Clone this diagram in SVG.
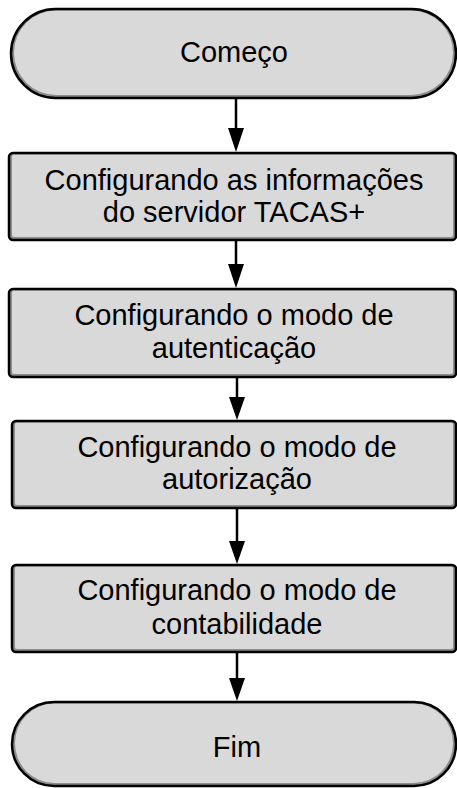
<svg xmlns="http://www.w3.org/2000/svg" width="457" height="788" viewBox="0 0 457 788">
<style>
.sh{fill:#8c8c8c}
.fl{fill:#d9d9d9}
.ol{fill:none;stroke:#000;stroke-width:2.5}
.t{font-family:"Liberation Sans",Arial,sans-serif;font-size:29px;fill:#000;text-anchor:middle}
.c{stroke:#000;stroke-width:2.5;fill:none}
.h{fill:#000}
</style>
<rect width="457" height="788" fill="#fff"/>
<g id="connectors">
<line class="c" x1="236" y1="98" x2="236" y2="128"/>
<path class="h" d="M228,128 L244,128 L236,152 Z"/>
<line class="c" x1="236" y1="240" x2="236" y2="264"/>
<path class="h" d="M228,264 L244,264 L236,288 Z"/>
<line class="c" x1="237" y1="377" x2="237" y2="397"/>
<path class="h" d="M229,397 L245,397 L237,420 Z"/>
<line class="c" x1="237" y1="508" x2="237" y2="541"/>
<path class="h" d="M229,541 L245,541 L237,564 Z"/>
<line class="c" x1="237" y1="652" x2="237" y2="678"/>
<path class="h" d="M229,678 L245,678 L237,701 Z"/>
</g>
<g id="start">
<rect class="sh" x="11" y="9" width="445" height="89" rx="44.5"/>
<rect class="fl" x="14" y="10.5" width="439" height="84.5" rx="42"/>
<rect class="ol" x="11" y="9" width="445" height="89" rx="44.5"/>
<text class="t" x="234" y="62">Começo</text>
</g>
<g id="step1">
<rect class="sh" x="9" y="153" width="447" height="87" rx="4"/>
<rect class="fl" x="12" y="154.5" width="441" height="82.5" rx="2"/>
<rect class="ol" x="9" y="153" width="447" height="87" rx="4"/>
<text class="t" x="234" y="190">Configurando as informações</text>
<text class="t" x="234" y="222">do servidor TACAS+</text>
</g>
<g id="step2">
<rect class="sh" x="9" y="289" width="447" height="88" rx="4"/>
<rect class="fl" x="12" y="290.5" width="441" height="83.5" rx="2"/>
<rect class="ol" x="9" y="289" width="447" height="88" rx="4"/>
<text class="t" x="234" y="325">Configurando o modo de</text>
<text class="t" x="234" y="358">autenticação</text>
</g>
<g id="step3">
<rect class="sh" x="12" y="421" width="444" height="87" rx="4"/>
<rect class="fl" x="15" y="422.5" width="438" height="82.5" rx="2"/>
<rect class="ol" x="12" y="421" width="444" height="87" rx="4"/>
<text class="t" x="237" y="457">Configurando o modo de</text>
<text class="t" x="237" y="489">autorização</text>
</g>
<g id="step4">
<rect class="sh" x="12" y="565" width="444" height="87" rx="4"/>
<rect class="fl" x="15" y="566.5" width="438" height="82.5" rx="2"/>
<rect class="ol" x="12" y="565" width="444" height="87" rx="4"/>
<text class="t" x="237" y="600">Configurando o modo de</text>
<text class="t" x="237" y="634">contabilidade</text>
</g>
<g id="end">
<rect class="sh" x="12" y="702" width="444" height="84" rx="42"/>
<rect class="fl" x="15" y="703.5" width="438" height="79.5" rx="39.5"/>
<rect class="ol" x="12" y="702" width="444" height="84" rx="42"/>
<text class="t" x="237" y="757">Fim</text>
</g>
</svg>
